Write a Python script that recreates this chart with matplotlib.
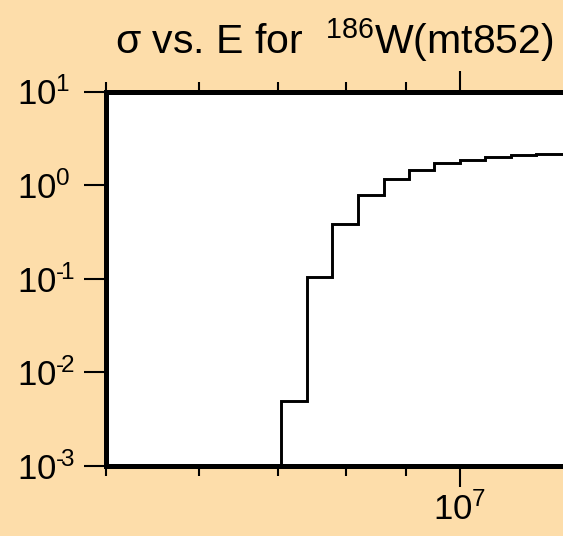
import matplotlib
matplotlib.use("Agg")
import matplotlib.pyplot as plt
from matplotlib.ticker import FixedLocator, NullFormatter
from matplotlib.transforms import ScaledTranslation

# ---- data ----
energy_edges = [7.05e6, 7.41e6, 7.79e6, 8.19e6, 8.61e6, 9.05e6, 9.51e6,
                1.0e7, 1.051e7, 1.105e7, 1.161e7, 1.22e7, 1.28e7]
sigma_values = [4.95e-3, 0.104, 0.388, 0.79, 1.158, 1.435, 1.706,
                1.868, 2.01, 2.09, 2.13, 2.15]

y_ticks = [1e-3, 1e-2, 1e-1, 1e0, 1e1]
y_tick_labels = ['$10^{\u2010\\!3}$', '$10^{\u2010\\!2}$', '$10^{\u2010\\!1}$',
                 '$10^{0}$', '$10^{1}$']
x_major_ticks = [1e7]
x_major_labels = ['$10^{7}$']
x_minor_ticks = [5e6, 6e6, 7e6, 8e6, 9e6]
x_limits = (5e6, 2e7)
y_limits = (1e-3, 1e1)
title_text = 'σ vs. E for  $^{186}$W(mt852)'

# ---- style ----
plt.rcParams['font.family'] = ['Liberation Sans', 'DejaVu Sans']
plt.rcParams['mathtext.fontset'] = 'custom'
plt.rcParams['mathtext.rm'] = 'Liberation Sans'
plt.rcParams['mathtext.it'] = 'Liberation Sans:italic'
plt.rcParams['mathtext.bf'] = 'Liberation Sans:bold'

bg = '#FDDDAA'
W, H, DPI = 563, 536, 100
fig = plt.figure(figsize=(W / DPI, H / DPI), dpi=DPI, facecolor=bg)

left_px, top_px, bottom_px = 106, 91.5, 466
right_px = 814
ax = fig.add_axes([left_px / W, (H - bottom_px) / H,
                   (right_px - left_px) / W, (bottom_px - top_px) / H])
ax.set_facecolor('white')
ax.set_xscale('log')
ax.set_yscale('log')
ax.set_xlim(*x_limits)
ax.set_ylim(*y_limits)

ax.stairs(sigma_values, energy_edges, baseline=1e-6, color='black',
          linewidth=2.1)

for sp in ax.spines.values():
    sp.set_linewidth(3.6)
    sp.set_color('black')

ax.xaxis.set_major_locator(FixedLocator(x_major_ticks))
ax.set_xticklabels(x_major_labels)
ax.xaxis.set_minor_locator(FixedLocator(x_minor_ticks))
ax.xaxis.set_minor_formatter(NullFormatter())
ax.tick_params(axis='x', which='major', direction='out', length=15,
               width=1.5, top=True, bottom=True, labelsize=25, pad=4)
ax.tick_params(axis='x', which='minor', direction='out', length=7.5,
               width=1.5, top=True, bottom=True)

ax.set_yticks(y_ticks)
ax.set_yticklabels(y_tick_labels)
ax.yaxis.set_minor_locator(FixedLocator([]))
ax.tick_params(axis='y', which='major', direction='out', length=15.5,
               width=1.5, left=True, right=False, labelsize=25, pad=48.5)
shift = ScaledTranslation(0, -3.5 / DPI, fig.dpi_scale_trans)
for tick in ax.yaxis.get_major_ticks():
    lab = tick.label1
    lab.set_horizontalalignment('left')
    lab.set_verticalalignment('center')
    lab.set_transform(lab.get_transform() + shift)

fig.text(334.5 / W, (H - 54) / H, title_text, ha='center', va='baseline',
         fontsize=29.5)

fig.savefig('out.png', dpi=DPI, facecolor=bg)
